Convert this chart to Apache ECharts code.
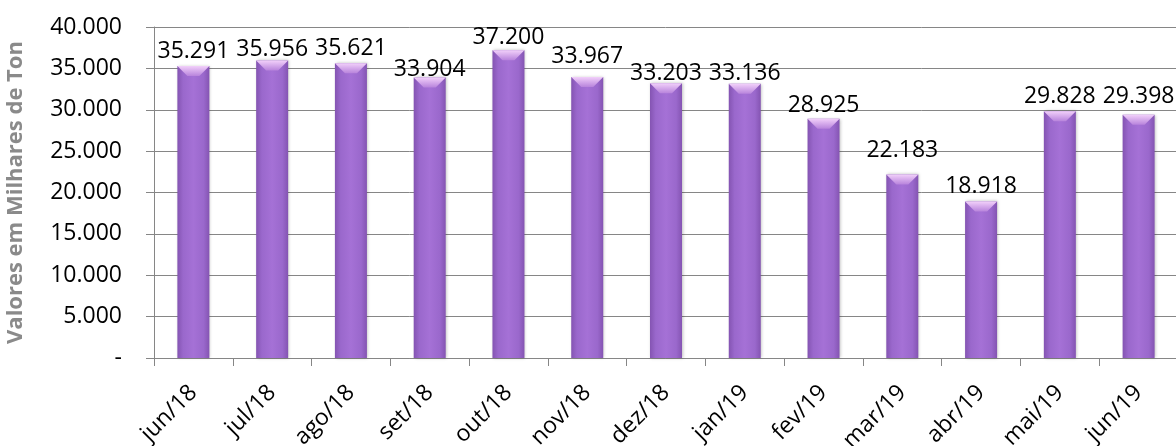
<!DOCTYPE html>
<html>
<head>
<meta charset="utf-8">
<script src="https://cdn.jsdelivr.net/npm/echarts@6/dist/echarts.min.js"></script>
<style>html,body{margin:0;padding:0;background:#fff}#c{width:1176px;height:446px}</style>
</head>
<body>
<div id="c"></div>
<script>
const categories = ['jun/18','jul/18','ago/18','set/18','out/18','nov/18','dez/18','jan/19','fev/19','mar/19','abr/19','mai/19','jun/19'];
const values = [35291, 35956, 35621, 33904, 37200, 33967, 33203, 33136, 28925, 22183, 18918, 29828, 29398];
const yTicks = [0, 5000, 10000, 15000, 20000, 25000, 30000, 35000, 40000];
const yTitle = 'Valores em Milhares de Ton';
// label gap above each bar (style)
const labelGap = [8, 5, 8, 1, 6, 14, 3, 4, 7, 17, 9, 8, 12];

function fmt(v) {
  if (v === 0) return '-';
  return String(v).replace(/\B(?=(\d{3})+(?!\d))/g, '.');
}
const FONT = 'Open Sans';
const chart = echarts.init(document.getElementById('c'));
const barColor = {
  type: 'linear', x: 0, y: 0, x2: 1, y2: 0,
  colorStops: [
    {offset: 0, color: '#8454b2'},
    {offset: 0.18, color: '#9a68cc'},
    {offset: 0.5, color: '#a571d6'},
    {offset: 0.82, color: '#9a68cc'},
    {offset: 1, color: '#8454b2'}
  ]
};
chart.setOption({
  animation: false,
  grid: {left: 154, top: 27, width: 1024, height: 331, containLabel: false, outerBoundsMode: 'none'},
  xAxis: {
    type: 'category',
    data: categories,
    boundaryGap: true,
    axisLine: {lineStyle: {color: '#868686', width: 1}},
    axisTick: {show: true, length: 8, lineStyle: {color: '#868686'}},
    axisLabel: {rotate: 45, margin: 31, color: '#000', fontFamily: FONT, fontSize: 23}
  },
  yAxis: {
    type: 'value',
    min: yTicks[0], max: yTicks[yTicks.length - 1], interval: yTicks[1] - yTicks[0],
    name: yTitle,
    nameLocation: 'middle',
    nameGap: 127,
    nameRotate: 90,
    nameTextStyle: {color: '#8a8a8a', fontFamily: FONT, fontWeight: 'bold', fontSize: 22},
    axisLine: {show: true, lineStyle: {color: '#868686'}},
    axisTick: {show: true, length: 8, lineStyle: {color: '#868686'}},
    splitLine: {show: true, lineStyle: {color: '#868686', width: 1}},
    axisLabel: {margin: 32, color: '#000', fontFamily: FONT, fontSize: 23, formatter: fmt}
  },
  series: [
    {
      type: 'bar',
      data: values.map((v, i) => ({
        value: v,
        label: {distance: labelGap[i] - 5}
      })),
      barWidth: 32,
      itemStyle: {color: barColor, shadowColor: 'rgba(0,0,0,0.25)', shadowBlur: 3, shadowOffsetX: 1},
      label: {show: true, position: 'top', color: '#000', fontFamily: FONT, fontSize: 23,
        formatter: p => fmt(p.value)},
      z: 2
    },
    {
      type: 'pictorialBar',
      data: values,
      symbol: 'path://M0,0 L32,0 L22,10 L10,10 Z',
      symbolSize: [32, 10],
      symbolPosition: 'end',
      symbolOffset: [0, 0],
      itemStyle: {color: {type: 'linear', x: 0, y: 0, x2: 0, y2: 1,
        colorStops: [{offset: 0, color: '#f2d0fa'}, {offset: 1, color: '#b884dc'}]}},
      silent: true,
      z: 3
    }
  ]
});
</script>
</body>
</html>
